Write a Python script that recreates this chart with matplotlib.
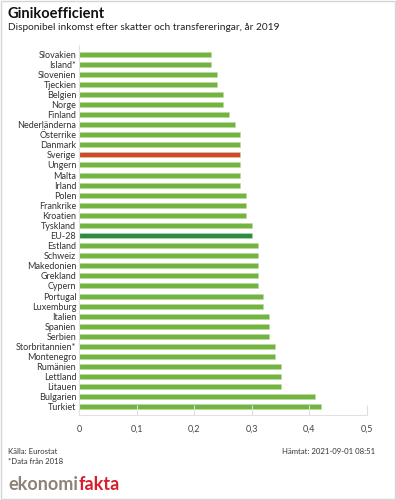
import matplotlib
matplotlib.use('Agg')
import matplotlib.pyplot as plt
from matplotlib.patches import Rectangle

plt.rcParams['font.family'] = ['Lato', 'DejaVu Sans']

countries = ['Slovakien', 'Island*', 'Slovenien', 'Tjeckien', 'Belgien', 'Norge', 'Finland',
             'Nederländerna', 'Österrike', 'Danmark', 'Sverige', 'Ungern', 'Malta', 'Irland',
             'Polen', 'Frankrike', 'Kroatien', 'Tyskland', 'EU-28', 'Estland', 'Schweiz',
             'Makedonien', 'Grekland', 'Cypern', 'Portugal', 'Luxemburg', 'Italien', 'Spanien',
             'Serbien', 'Storbritannien*', 'Montenegro', 'Rumänien', 'Lettland', 'Litauen',
             'Bulgarien', 'Turkiet']
gini = [0.23, 0.23, 0.24, 0.24, 0.25, 0.25, 0.26, 0.27, 0.28, 0.28, 0.28, 0.28, 0.28, 0.28,
        0.29, 0.29, 0.29, 0.30, 0.30, 0.31, 0.31, 0.31, 0.31, 0.31, 0.32, 0.32, 0.33, 0.33,
        0.33, 0.34, 0.34, 0.35, 0.35, 0.35, 0.41, 0.42]
xticks = [0, 0.1, 0.2, 0.3, 0.4, 0.5]
xticklabels = ['0', '0,1', '0,2', '0,3', '0,4', '0,5']

colors = []
for c in countries:
    if c == 'Sverige':
        colors.append('#d9452b')
    elif c == 'EU-28':
        colors.append('#2e8b45')
    else:
        colors.append('#72b43f')

fig = plt.figure(figsize=(3.96, 5), dpi=100)
ax = fig.add_axes([79/396, 85/500, 288/396, 370/500])

y = list(range(len(countries)))
ax.barh(y, gini, height=0.5, color=colors, edgecolor='#b9dca0', linewidth=0.4)
ax.set_ylim(len(countries) - 0.2, -0.9)
ax.set_xlim(0, 0.5)
ax.set_yticks(y)
ax.set_yticklabels(countries, fontsize=6.5, color='#333333')
ax.set_xticks(xticks)
ax.set_xticklabels(xticklabels, fontsize=6.5, color='#444444')
ax.tick_params(axis='y', length=0, pad=2)
ax.tick_params(axis='x', direction='in', length=7, color='#dddddd', width=0.8, pad=7)
for s in ['top', 'right']:
    ax.spines[s].set_visible(False)
ax.spines['left'].set_color('#e2e2e2')
ax.spines['bottom'].set_color('#e2e2e2')

fig.text(8/396, 1 - 14/500, 'Ginikoefficient', fontsize=10.5, fontweight='bold', va='center', color='#111111')
fig.text(8/396, 1 - 28/500, 'Disponibel inkomst efter skatter och transfereringar, år 2019',
         fontsize=7.3, va='center', color='#222222')

fig.text(8/396, 1 - 452/500, 'Källa: Eurostat', fontsize=5.6, va='center', color='#333333')
fig.text(8/396, 1 - 462/500, '*Data från 2018', fontsize=5.6, va='center', color='#333333')
fig.text(375/396, 1 - 452/500, 'Hämtat: 2021-09-01 08:51', fontsize=5.6, va='center', ha='right', color='#333333')

t1 = fig.text(8/396, 1 - 484/500, 'ekonomi', fontsize=13, fontweight='bold', va='center', color='#8c8278')
fig.canvas.draw()
bb = t1.get_window_extent()
fig.text(bb.x1 / 396 + 0.002, 1 - 484/500, 'fakta', fontsize=13, fontweight='bold', va='center', color='#d81e2c')

fig.patches.append(Rectangle((0.002, 0.002), 0.996, 0.996, transform=fig.transFigure,
                             fill=False, edgecolor='#d5d5d5', linewidth=1))

fig.savefig('out.png', dpi=100)
